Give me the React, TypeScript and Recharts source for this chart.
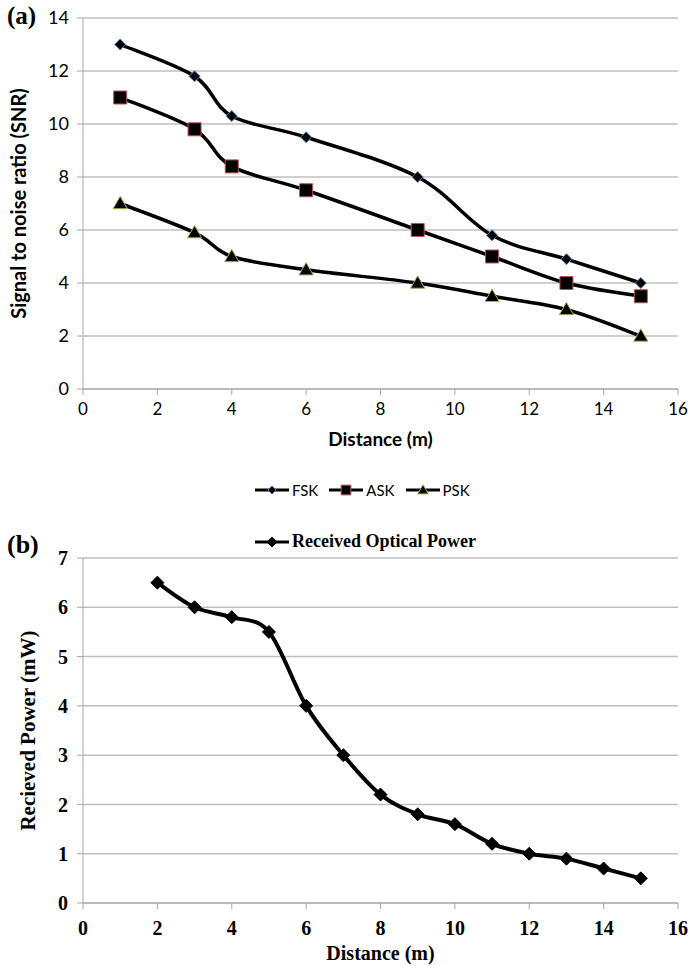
import { LineChart, Line, XAxis, YAxis, CartesianGrid } from "recharts";

// (a) SNR vs distance
const snrDistance = [1, 3, 4, 6, 9, 11, 13, 15];
const fskSnr = [13, 11.8, 10.3, 9.5, 8, 5.8, 4.9, 4];
const askSnr = [11, 9.8, 8.4, 7.5, 6, 5, 4, 3.5];
const pskSnr = [7, 5.9, 5, 4.5, 4, 3.5, 3, 2];

// (b) received power vs distance
const powerDistance = [2, 3, 4, 5, 6, 7, 8, 9, 10, 11, 12, 13, 14, 15];
const receivedPower = [6.5, 6, 5.8, 5.5, 4, 3, 2.2, 1.8, 1.6, 1.2, 1, 0.9, 0.7, 0.5];

const distanceTicks = [0, 2, 4, 6, 8, 10, 12, 14, 16];
const snrTicks = [0, 2, 4, 6, 8, 10, 12, 14];
const powerTicks = [0, 1, 2, 3, 4, 5, 6, 7];

type Kind = "diamond" | "square" | "triangle";

const snrSeries: { key: string; values: number[]; kind: Kind; edge: string }[] = [
  { key: "FSK", values: fskSnr, kind: "diamond", edge: "#4f81bd" },
  { key: "ASK", values: askSnr, kind: "square", edge: "#c0504d" },
  { key: "PSK", values: pskSnr, kind: "triangle", edge: "#9bbb59" },
];

const snrData = snrDistance.map((d, i) => {
  const row: Record<string, number> = { distance: d };
  snrSeries.forEach((s) => (row[s.key] = s.values[i]));
  return row;
});

const powerData = powerDistance.map((d, i) => ({ distance: d, power: receivedPower[i] }));

const GRID = "#bfbfbf";
const AXIS = "#a6a6a6";
const SANS = "Lato, 'Open Sans', sans-serif";
const SERIF = "'Liberation Serif', 'DejaVu Serif', serif";

// Excel-like smoothed line (Catmull-Rom through the points)
function excelCurve(context: any) {
  let pts: [number, number][] = [];
  return {
    areaStart() {},
    areaEnd() {},
    lineStart() {
      pts = [];
    },
    lineEnd() {
      const n = pts.length;
      if (!n) return;
      context.moveTo(pts[0][0], pts[0][1]);
      for (let i = 0; i < n - 1; i++) {
        const p0 = pts[Math.max(i - 1, 0)];
        const p1 = pts[i];
        const p2 = pts[i + 1];
        const p3 = pts[Math.min(i + 2, n - 1)];
        context.bezierCurveTo(
          p1[0] + (p2[0] - p0[0]) / 6,
          p1[1] + (p2[1] - p0[1]) / 6,
          p2[0] - (p3[0] - p1[0]) / 6,
          p2[1] - (p3[1] - p1[1]) / 6,
          p2[0],
          p2[1]
        );
      }
    },
    point(x: number, y: number) {
      pts.push([+x, +y]);
    },
  };
}

function markerPath(kind: Kind, cx: number, cy: number, s: number) {
  if (kind === "diamond") {
    return `M${cx},${cy - s} L${cx + s},${cy} L${cx},${cy + s} L${cx - s},${cy} Z`;
  }
  if (kind === "square") {
    return `M${cx - s},${cy - s} H${cx + s} V${cy + s} H${cx - s} Z`;
  }
  return `M${cx},${cy - s * 1.1} L${cx + s * 1.1},${cy + s * 0.8} L${cx - s * 1.1},${cy + s * 0.8} Z`;
}

function makeDot(kind: Kind, edge: string, size: number) {
  return (props: any) => {
    const { cx, cy, index } = props;
    if (cx == null || cy == null) return <g key={`d${index}`} />;
    return (
      <path
        key={`d${kind}${index}`}
        d={markerPath(kind, cx, cy, size)}
        fill="#000"
        stroke={edge}
        strokeWidth={1}
      />
    );
  };
}

const markerSize: Record<Kind, number> = { diamond: 5.5, square: 6.5, triangle: 6.5 };

function LegendIcon({ kind, edge, size }: { kind: Kind; edge: string; size: number }) {
  return (
    <svg width={36} height={16} style={{ verticalAlign: "middle" }}>
      <line x1={1} y1={8} x2={35} y2={8} stroke="#000" strokeWidth={3} />
      <path d={markerPath(kind, 18, 8, size)} fill="#000" stroke={edge} strokeWidth={1} />
    </svg>
  );
}

export default function App() {
  return (
    <div style={{ position: "absolute", left: 0, top: 0, width: 690, height: 966, background: "#fff" }}>
      {/* panel (a) */}
      <div style={{ position: "absolute", left: 7, top: 2, fontFamily: SERIF, fontWeight: "bold", fontSize: 25 }}>
        (a)
      </div>
      <div style={{ position: "absolute", left: 0, top: 0 }}>
        <LineChart width={690} height={450} data={snrData} margin={{ top: 18, right: 12, left: 0, bottom: 0 }}>
          <CartesianGrid vertical={false} stroke={GRID} strokeWidth={1.5} />
          <XAxis
            type="number"
            dataKey="distance"
            domain={[0, 16]}
            ticks={distanceTicks}
            height={61}
            stroke={AXIS}
            tickSize={6}
            tickMargin={8}
            tick={{ fill: "#000", fontSize: 17, fontFamily: SANS }}
            label={{
              value: "Distance (m)",
              position: "insideBottom",
              offset: 4,
              fill: "#000",
              fontSize: 19,
              fontWeight: "bold",
              fontFamily: SANS,
            }}
          />
          <YAxis
            type="number"
            domain={[0, 14]}
            ticks={snrTicks}
            width={83}
            stroke={AXIS}
            tickSize={6}
            tickMargin={8}
            tick={{ fill: "#000", fontSize: 18, fontFamily: SANS }}
            label={{
              value: "Signal to noise ratio (SNR)",
              angle: -90,
              position: "insideLeft",
              offset: 19,
              style: { textAnchor: "middle" },
              fill: "#000",
              fontSize: 20,
              fontWeight: "bold",
              fontFamily: SANS,
            }}
          />
          {snrSeries.map((s) => (
            <Line
              key={s.key}
              type={excelCurve as any}
              dataKey={s.key}
              stroke="#000"
              strokeWidth={3.5}
              dot={makeDot(s.kind, s.edge, markerSize[s.kind])}
              activeDot={false}
              isAnimationActive={false}
            />
          ))}
        </LineChart>
      </div>
      <div
        style={{
          position: "absolute",
          left: 254,
          top: 481,
          display: "flex",
          gap: 10,
          fontFamily: SANS,
          fontSize: 15,
        }}
      >
        {snrSeries.map((s) => (
          <span key={s.key} style={{ display: "inline-flex", alignItems: "center", gap: 2 }}>
            <LegendIcon kind={s.kind} edge={s.edge} size={markerSize[s.kind] * 0.75} />
            {s.key}
          </span>
        ))}
      </div>

      {/* panel (b) */}
      <div style={{ position: "absolute", left: 7, top: 530, fontFamily: SERIF, fontWeight: "bold", fontSize: 26 }}>
        (b)
      </div>
      <div
        style={{
          position: "absolute",
          left: 254,
          top: 531,
          fontFamily: SERIF,
          fontWeight: "bold",
          fontSize: 18,
        }}
      >
        <span style={{ display: "inline-flex", alignItems: "center", gap: 2 }}>
          <LegendIcon kind="diamond" edge="#000" size={5} />
          Received Optical Power
        </span>
      </div>
      <div style={{ position: "absolute", left: 0, top: 530 }}>
        <LineChart width={690} height={436} data={powerData} margin={{ top: 28, right: 12, left: 0, bottom: 0 }}>
          <CartesianGrid vertical={false} stroke={GRID} strokeWidth={1.5} />
          <XAxis
            type="number"
            dataKey="distance"
            domain={[0, 16]}
            ticks={distanceTicks}
            height={63}
            stroke={AXIS}
            tickSize={6}
            tickMargin={12}
            tick={{ fill: "#000", fontSize: 20, fontWeight: "bold", fontFamily: SERIF }}
            label={{
              value: "Distance (m)",
              position: "insideBottom",
              offset: 6,
              fill: "#000",
              fontSize: 20,
              fontWeight: "bold",
              fontFamily: SERIF,
            }}
          />
          <YAxis
            type="number"
            domain={[0, 7]}
            ticks={powerTicks}
            width={83}
            stroke={AXIS}
            tickSize={6}
            tickMargin={9}
            tick={{ fill: "#000", fontSize: 20, fontWeight: "bold", fontFamily: SERIF }}
            label={{
              value: "Recieved Power (mW)",
              angle: -90,
              position: "insideLeft",
              offset: 28,
              style: { textAnchor: "middle" },
              fill: "#000",
              fontSize: 21,
              fontWeight: "bold",
              fontFamily: SERIF,
            }}
          />
          <Line
            type={excelCurve as any}
            dataKey="power"
            stroke="#000"
            strokeWidth={4}
            dot={makeDot("diamond", "#000", 6.5)}
            activeDot={false}
            isAnimationActive={false}
          />
        </LineChart>
      </div>
    </div>
  );
}
